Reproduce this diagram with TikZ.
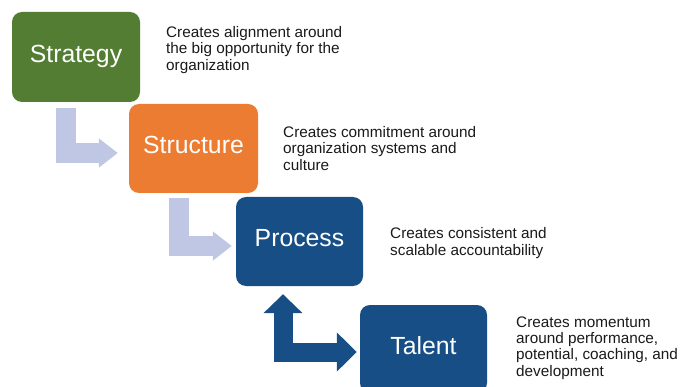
\documentclass[tikz,border=0pt]{standalone}
\usepackage{fontspec}
\setmainfont{Liberation Sans}
\usetikzlibrary{arrows.meta}
\definecolor{cgreen}{HTML}{537D32}
\definecolor{corange}{HTML}{EC7C31}
\definecolor{cblue}{HTML}{174E86}
\definecolor{clav}{HTML}{BFC7E5}
\definecolor{ctext}{HTML}{1A1A1A}
\begin{document}
\begin{tikzpicture}[x=1pt,y=-1pt,
  box/.style={rectangle, rounded corners=10pt, inner sep=0pt, text=white,
    text height=18pt, text depth=7.5pt,
    font=\fontsize{24.8}{28}\selectfont},
  desc/.style={anchor=west, align=left, inner sep=0pt, text=ctext,
    font=\fontsize{15.3}{16.3}\selectfont},
  lavarrow/.style={draw=clav, line width=20pt, line join=miter,
    -{Triangle[width=28pt,length=19pt,fill=clav,color=clav]}},
  bluearrow/.style={draw=cblue, line width=19pt, line join=miter,
    {Triangle[width=38pt,length=19pt,fill=cblue,color=cblue]}-{Triangle[width=38pt,length=20pt,fill=cblue,color=cblue]}}
]
\useasboundingbox (0,0) rectangle (682,387);
\fill[white] (0,0) rectangle (682,387);

\node[box, fill=cgreen, minimum width=128pt, minimum height=90pt] (strategy) at (76,57) {Strategy};
\node[box, fill=corange, minimum width=129pt, minimum height=89pt] (structure) at (193.5,148.5) {Structure};
\node[box, fill=cblue, minimum width=127pt, minimum height=89pt] (process) at (299.5,241.5) {Process};
\node[box, fill=cblue, minimum width=127pt, minimum height=88pt] (talent) at (423.5,349) {Talent};

\draw[lavarrow] ([xshift=-10pt,yshift=-6pt]strategy.south) |- ([xshift=-11pt,yshift=-4.5pt]structure.west);
\draw[lavarrow] ([xshift=-14.5pt,yshift=-5pt]structure.south) |- ([xshift=-4pt,yshift=-4.5pt]process.west);
\draw[bluearrow] ([xshift=-16.5pt,yshift=-8pt]process.south) |- ([xshift=-3pt,yshift=-3pt]talent.west);

\node[desc] (d1) at (166,50) {Creates alignment around\\the big opportunity for the\\organization};
\node[desc] (d2) at (283,148.5) {Creates commitment around\\organization systems and\\culture};
\node[desc] (d3) at (390,243) {Creates consistent and\\scalable accountability};
\node[desc] (d4) at (516,348) {Creates momentum\\around performance,\\potential, coaching, and\\development};
\end{tikzpicture}
\end{document}
